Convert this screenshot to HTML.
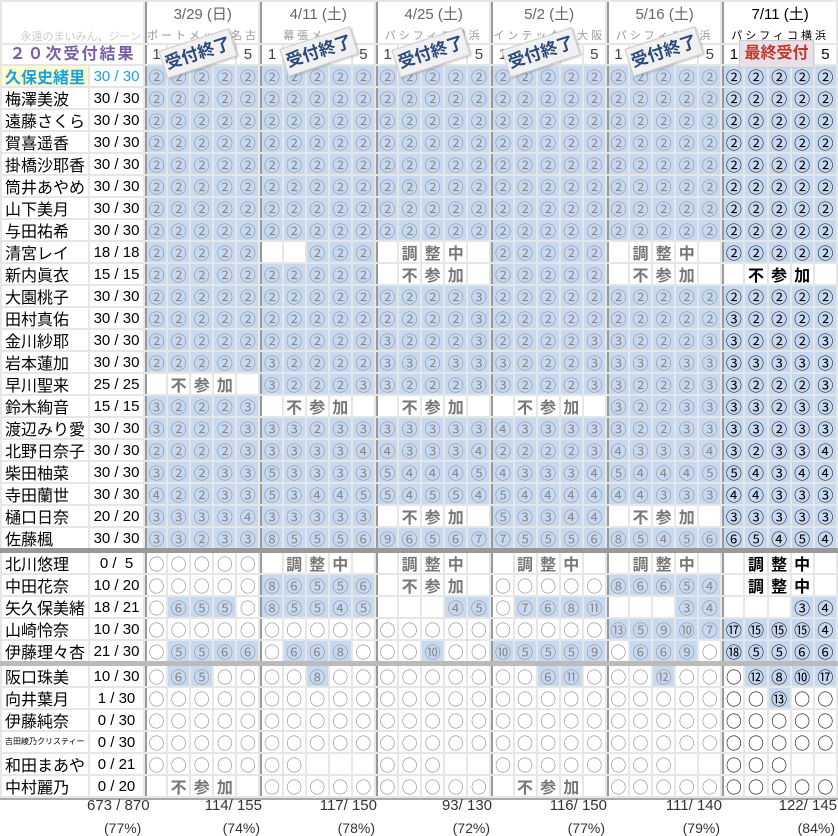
<!DOCTYPE html>
<html><head><meta charset="utf-8">
<style>
html,body{margin:0;padding:0;background:#fff;}
body{width:838px;height:835px;position:relative;overflow:hidden;font-family:"Liberation Sans","Noto Sans CJK JP",sans-serif;}
table{position:absolute;left:0;top:0;width:838px;border-collapse:separate;border-spacing:2px;background:#e6e6e6;table-layout:fixed;border-bottom:2px solid #aaa;}
td{background:#fff;padding:0;height:20px;line-height:20px;text-align:center;font-size:16px;color:#8a8a8a;overflow:hidden;white-space:nowrap;font-family:"Noto Sans CJK JP",sans-serif;vertical-align:middle;}
tr.d td:nth-child(5n+3){border-left:2px solid #999;}
tr.d td:nth-child(n+28){color:#000;}
td.n{text-align:left;padding-left:3px;font-size:16px;color:#000;}
td.c{font-size:15px;color:#000;font-family:"Liberation Sans",sans-serif;height:18px;line-height:18px;padding-top:2px;}
td.b{background:#c6d9f0;}
td.t{font-weight:bold;font-size:16px;color:#777;}
tr.d td.t:nth-child(n+28){color:#000;}
tr.s td{height:1px;line-height:0;font-size:0;background:#999;outline:2px solid #999;}
tr.s2 td{height:1px;line-height:0;font-size:0;background:#bbb;outline:2px solid #bbb;}
tr.h1 td{height:38px;line-height:16px;vertical-align:top;}
tr.h1 td.g{border-left:2px solid #999;}
.dt{font-size:15px;color:#666;margin-top:5px;font-family:"Liberation Sans","Noto Sans CJK JP",sans-serif;}
.vn{font-size:11px;color:#999;letter-spacing:3px;margin-top:4px;}
tr.h2 td{height:19px;line-height:19px;font-size:15px;color:#444;font-family:"Liberation Sans","Noto Sans CJK JP",sans-serif;}
tr.h2 td.g{border-left:2px solid #999;}
.st{position:absolute;width:72px;height:27px;line-height:27px;background:#f1f1f1;border:1px solid #ccc;box-shadow:1px 1px 2px rgba(0,0,0,.25);transform:rotate(-18deg);text-align:center;font-weight:bold;font-size:17px;color:#2c4a7a;font-family:"Liberation Sans","Noto Sans CJK JP",sans-serif;}
.ft{position:absolute;font-size:15px;color:#333;text-align:right;white-space:nowrap;}
.pc{position:absolute;font-size:14px;color:#333;text-align:right;white-space:nowrap;}
</style></head><body>
<table>
<colgroup><col style="width:86px"><col style="width:53px">
<col><col><col><col><col><col><col><col><col><col><col><col><col><col><col><col><col><col><col><col><col><col><col><col><col><col><col><col><col><col></colgroup>
<tr class="h1"><td colspan="2" style="vertical-align:bottom;text-align:right;font-size:11px;color:#ccc;line-height:14px;padding-right:2px;">永遠のまいみん、ジーン</td>
<td colspan="5" class="g"><div class="dt">3/29 (日)</div><div class="vn">ポートメッセ名古屋</div></td>
<td colspan="5" class="g"><div class="dt">4/11 (土)</div><div class="vn">幕張メッセ</div></td>
<td colspan="5" class="g"><div class="dt">4/25 (土)</div><div class="vn">パシフィコ横浜</div></td>
<td colspan="5" class="g"><div class="dt">5/2 (土)</div><div class="vn">インテックス大阪</div></td>
<td colspan="5" class="g"><div class="dt">5/16 (土)</div><div class="vn">パシフィコ横浜</div></td>
<td colspan="5" class="g"><div class="dt" style="color:#000">7/11 (土)</div><div class="vn" style="color:#000">パシフィコ横浜</div></td></tr>
<tr class="h2"><td colspan="2" style="color:#7b5ea7;font-weight:bold;font-size:16px;letter-spacing:2px;">２０次受付結果</td>
<td class="g">1</td><td></td><td></td><td></td><td>5</td>
<td class="g">1</td><td></td><td></td><td></td><td>5</td>
<td class="g">1</td><td></td><td></td><td></td><td>5</td>
<td class="g">1</td><td></td><td></td><td></td><td>5</td>
<td class="g">1</td><td></td><td></td><td></td><td>5</td>
<td class="g" style="color:#000">1</td><td></td><td></td><td></td><td style="color:#000">5</td></tr>

<tr class="d"><td class="n" style="background:#ffffcc;color:#1ca0e0;font-weight:bold;">久保史緒里</td><td class="c" style="color:#1ca0e0">30 / 30</td><td class=b>②</td><td class=b>②</td><td class=b>②</td><td class=b>②</td><td class=b>②</td><td class=b>②</td><td class=b>②</td><td class=b>②</td><td class=b>②</td><td class=b>②</td><td class=b>②</td><td class=b>②</td><td class=b>②</td><td class=b>②</td><td class=b>②</td><td class=b>②</td><td class=b>②</td><td class=b>②</td><td class=b>②</td><td class=b>②</td><td class=b>②</td><td class=b>②</td><td class=b>②</td><td class=b>②</td><td class=b>②</td><td class=b>②</td><td class=b>②</td><td class=b>②</td><td class=b>②</td><td class=b>②</td></tr>
<tr class="d"><td class="n">梅澤美波</td><td class="c">30 / 30</td><td class=b>②</td><td class=b>②</td><td class=b>②</td><td class=b>②</td><td class=b>②</td><td class=b>②</td><td class=b>②</td><td class=b>②</td><td class=b>②</td><td class=b>②</td><td class=b>②</td><td class=b>②</td><td class=b>②</td><td class=b>②</td><td class=b>②</td><td class=b>②</td><td class=b>②</td><td class=b>②</td><td class=b>②</td><td class=b>②</td><td class=b>②</td><td class=b>②</td><td class=b>②</td><td class=b>②</td><td class=b>②</td><td class=b>②</td><td class=b>②</td><td class=b>②</td><td class=b>②</td><td class=b>②</td></tr>
<tr class="d"><td class="n">遠藤さくら</td><td class="c">30 / 30</td><td class=b>②</td><td class=b>②</td><td class=b>②</td><td class=b>②</td><td class=b>②</td><td class=b>②</td><td class=b>②</td><td class=b>②</td><td class=b>②</td><td class=b>②</td><td class=b>②</td><td class=b>②</td><td class=b>②</td><td class=b>②</td><td class=b>②</td><td class=b>②</td><td class=b>②</td><td class=b>②</td><td class=b>②</td><td class=b>②</td><td class=b>②</td><td class=b>②</td><td class=b>②</td><td class=b>②</td><td class=b>②</td><td class=b>②</td><td class=b>②</td><td class=b>②</td><td class=b>②</td><td class=b>②</td></tr>
<tr class="d"><td class="n">賀喜遥香</td><td class="c">30 / 30</td><td class=b>②</td><td class=b>②</td><td class=b>②</td><td class=b>②</td><td class=b>②</td><td class=b>②</td><td class=b>②</td><td class=b>②</td><td class=b>②</td><td class=b>②</td><td class=b>②</td><td class=b>②</td><td class=b>②</td><td class=b>②</td><td class=b>②</td><td class=b>②</td><td class=b>②</td><td class=b>②</td><td class=b>②</td><td class=b>②</td><td class=b>②</td><td class=b>②</td><td class=b>②</td><td class=b>②</td><td class=b>②</td><td class=b>②</td><td class=b>②</td><td class=b>②</td><td class=b>②</td><td class=b>②</td></tr>
<tr class="d"><td class="n">掛橋沙耶香</td><td class="c">30 / 30</td><td class=b>②</td><td class=b>②</td><td class=b>②</td><td class=b>②</td><td class=b>②</td><td class=b>②</td><td class=b>②</td><td class=b>②</td><td class=b>②</td><td class=b>②</td><td class=b>②</td><td class=b>②</td><td class=b>②</td><td class=b>②</td><td class=b>②</td><td class=b>②</td><td class=b>②</td><td class=b>②</td><td class=b>②</td><td class=b>②</td><td class=b>②</td><td class=b>②</td><td class=b>②</td><td class=b>②</td><td class=b>②</td><td class=b>②</td><td class=b>②</td><td class=b>②</td><td class=b>②</td><td class=b>②</td></tr>
<tr class="d"><td class="n">筒井あやめ</td><td class="c">30 / 30</td><td class=b>②</td><td class=b>②</td><td class=b>②</td><td class=b>②</td><td class=b>②</td><td class=b>②</td><td class=b>②</td><td class=b>②</td><td class=b>②</td><td class=b>②</td><td class=b>②</td><td class=b>②</td><td class=b>②</td><td class=b>②</td><td class=b>②</td><td class=b>②</td><td class=b>②</td><td class=b>②</td><td class=b>②</td><td class=b>②</td><td class=b>②</td><td class=b>②</td><td class=b>②</td><td class=b>②</td><td class=b>②</td><td class=b>②</td><td class=b>②</td><td class=b>②</td><td class=b>②</td><td class=b>②</td></tr>
<tr class="d"><td class="n">山下美月</td><td class="c">30 / 30</td><td class=b>②</td><td class=b>②</td><td class=b>②</td><td class=b>②</td><td class=b>②</td><td class=b>②</td><td class=b>②</td><td class=b>②</td><td class=b>②</td><td class=b>②</td><td class=b>②</td><td class=b>②</td><td class=b>②</td><td class=b>②</td><td class=b>②</td><td class=b>②</td><td class=b>②</td><td class=b>②</td><td class=b>②</td><td class=b>②</td><td class=b>②</td><td class=b>②</td><td class=b>②</td><td class=b>②</td><td class=b>②</td><td class=b>②</td><td class=b>②</td><td class=b>②</td><td class=b>②</td><td class=b>②</td></tr>
<tr class="d"><td class="n">与田祐希</td><td class="c">30 / 30</td><td class=b>②</td><td class=b>②</td><td class=b>②</td><td class=b>②</td><td class=b>②</td><td class=b>②</td><td class=b>②</td><td class=b>②</td><td class=b>②</td><td class=b>②</td><td class=b>②</td><td class=b>②</td><td class=b>②</td><td class=b>②</td><td class=b>②</td><td class=b>②</td><td class=b>②</td><td class=b>②</td><td class=b>②</td><td class=b>②</td><td class=b>②</td><td class=b>②</td><td class=b>②</td><td class=b>②</td><td class=b>②</td><td class=b>②</td><td class=b>②</td><td class=b>②</td><td class=b>②</td><td class=b>②</td></tr>
<tr class="d"><td class="n">清宮レイ</td><td class="c">18 / 18</td><td class=b>②</td><td class=b>②</td><td class=b>②</td><td class=b>②</td><td class=b>②</td><td></td><td></td><td class=b>②</td><td class=b>②</td><td class=b>②</td><td></td><td class=t>調</td><td class=t>整</td><td class=t>中</td><td></td><td class=b>②</td><td class=b>②</td><td class=b>②</td><td class=b>②</td><td class=b>②</td><td></td><td class=t>調</td><td class=t>整</td><td class=t>中</td><td></td><td class=b>②</td><td class=b>②</td><td class=b>②</td><td class=b>②</td><td class=b>②</td></tr>
<tr class="d"><td class="n">新内眞衣</td><td class="c">15 / 15</td><td class=b>②</td><td class=b>②</td><td class=b>②</td><td class=b>②</td><td class=b>②</td><td class=b>②</td><td class=b>②</td><td class=b>②</td><td class=b>②</td><td class=b>②</td><td></td><td class=t>不</td><td class=t>参</td><td class=t>加</td><td></td><td class=b>②</td><td class=b>②</td><td class=b>②</td><td class=b>②</td><td class=b>②</td><td></td><td class=t>不</td><td class=t>参</td><td class=t>加</td><td></td><td></td><td class=t>不</td><td class=t>参</td><td class=t>加</td><td></td></tr>
<tr class="d"><td class="n">大園桃子</td><td class="c">30 / 30</td><td class=b>②</td><td class=b>②</td><td class=b>②</td><td class=b>②</td><td class=b>②</td><td class=b>②</td><td class=b>②</td><td class=b>②</td><td class=b>②</td><td class=b>②</td><td class=b>②</td><td class=b>②</td><td class=b>②</td><td class=b>②</td><td class=b>③</td><td class=b>②</td><td class=b>②</td><td class=b>②</td><td class=b>②</td><td class=b>②</td><td class=b>②</td><td class=b>②</td><td class=b>②</td><td class=b>②</td><td class=b>②</td><td class=b>②</td><td class=b>②</td><td class=b>②</td><td class=b>②</td><td class=b>②</td></tr>
<tr class="d"><td class="n">田村真佑</td><td class="c">30 / 30</td><td class=b>②</td><td class=b>②</td><td class=b>②</td><td class=b>②</td><td class=b>②</td><td class=b>②</td><td class=b>②</td><td class=b>②</td><td class=b>②</td><td class=b>②</td><td class=b>②</td><td class=b>②</td><td class=b>②</td><td class=b>②</td><td class=b>③</td><td class=b>②</td><td class=b>②</td><td class=b>②</td><td class=b>②</td><td class=b>②</td><td class=b>②</td><td class=b>②</td><td class=b>②</td><td class=b>②</td><td class=b>②</td><td class=b>③</td><td class=b>②</td><td class=b>②</td><td class=b>②</td><td class=b>②</td></tr>
<tr class="d"><td class="n">金川紗耶</td><td class="c">30 / 30</td><td class=b>②</td><td class=b>②</td><td class=b>②</td><td class=b>②</td><td class=b>②</td><td class=b>②</td><td class=b>②</td><td class=b>②</td><td class=b>②</td><td class=b>②</td><td class=b>③</td><td class=b>②</td><td class=b>②</td><td class=b>②</td><td class=b>③</td><td class=b>②</td><td class=b>②</td><td class=b>②</td><td class=b>②</td><td class=b>③</td><td class=b>③</td><td class=b>②</td><td class=b>②</td><td class=b>②</td><td class=b>③</td><td class=b>③</td><td class=b>②</td><td class=b>②</td><td class=b>②</td><td class=b>③</td></tr>
<tr class="d"><td class="n">岩本蓮加</td><td class="c">30 / 30</td><td class=b>②</td><td class=b>②</td><td class=b>②</td><td class=b>②</td><td class=b>②</td><td class=b>③</td><td class=b>②</td><td class=b>②</td><td class=b>②</td><td class=b>②</td><td class=b>③</td><td class=b>③</td><td class=b>②</td><td class=b>③</td><td class=b>③</td><td class=b>③</td><td class=b>②</td><td class=b>②</td><td class=b>②</td><td class=b>③</td><td class=b>③</td><td class=b>③</td><td class=b>②</td><td class=b>③</td><td class=b>③</td><td class=b>③</td><td class=b>③</td><td class=b>③</td><td class=b>③</td><td class=b>③</td></tr>
<tr class="d"><td class="n">早川聖来</td><td class="c">25 / 25</td><td></td><td class=t>不</td><td class=t>参</td><td class=t>加</td><td></td><td class=b>③</td><td class=b>②</td><td class=b>②</td><td class=b>②</td><td class=b>③</td><td class=b>③</td><td class=b>②</td><td class=b>②</td><td class=b>②</td><td class=b>③</td><td class=b>③</td><td class=b>②</td><td class=b>②</td><td class=b>②</td><td class=b>③</td><td class=b>③</td><td class=b>②</td><td class=b>②</td><td class=b>②</td><td class=b>③</td><td class=b>③</td><td class=b>②</td><td class=b>②</td><td class=b>②</td><td class=b>③</td></tr>
<tr class="d"><td class="n">鈴木絢音</td><td class="c">15 / 15</td><td class=b>③</td><td class=b>②</td><td class=b>②</td><td class=b>②</td><td class=b>③</td><td></td><td class=t>不</td><td class=t>参</td><td class=t>加</td><td></td><td></td><td class=t>不</td><td class=t>参</td><td class=t>加</td><td></td><td></td><td class=t>不</td><td class=t>参</td><td class=t>加</td><td></td><td class=b>③</td><td class=b>②</td><td class=b>②</td><td class=b>③</td><td class=b>③</td><td class=b>③</td><td class=b>③</td><td class=b>②</td><td class=b>③</td><td class=b>③</td></tr>
<tr class="d"><td class="n">渡辺みり愛</td><td class="c">30 / 30</td><td class=b>③</td><td class=b>②</td><td class=b>②</td><td class=b>②</td><td class=b>③</td><td class=b>③</td><td class=b>③</td><td class=b>②</td><td class=b>③</td><td class=b>③</td><td class=b>③</td><td class=b>③</td><td class=b>③</td><td class=b>③</td><td class=b>③</td><td class=b>④</td><td class=b>③</td><td class=b>③</td><td class=b>③</td><td class=b>③</td><td class=b>③</td><td class=b>②</td><td class=b>②</td><td class=b>③</td><td class=b>③</td><td class=b>③</td><td class=b>③</td><td class=b>②</td><td class=b>③</td><td class=b>③</td></tr>
<tr class="d"><td class="n">北野日奈子</td><td class="c">30 / 30</td><td class=b>②</td><td class=b>②</td><td class=b>②</td><td class=b>②</td><td class=b>③</td><td class=b>③</td><td class=b>③</td><td class=b>③</td><td class=b>③</td><td class=b>④</td><td class=b>④</td><td class=b>③</td><td class=b>③</td><td class=b>③</td><td class=b>④</td><td class=b>②</td><td class=b>②</td><td class=b>②</td><td class=b>②</td><td class=b>③</td><td class=b>④</td><td class=b>③</td><td class=b>③</td><td class=b>③</td><td class=b>④</td><td class=b>③</td><td class=b>②</td><td class=b>③</td><td class=b>③</td><td class=b>④</td></tr>
<tr class="d"><td class="n">柴田柚菜</td><td class="c">30 / 30</td><td class=b>③</td><td class=b>②</td><td class=b>②</td><td class=b>③</td><td class=b>③</td><td class=b>⑤</td><td class=b>③</td><td class=b>③</td><td class=b>③</td><td class=b>③</td><td class=b>⑤</td><td class=b>④</td><td class=b>④</td><td class=b>④</td><td class=b>⑤</td><td class=b>④</td><td class=b>③</td><td class=b>③</td><td class=b>③</td><td class=b>④</td><td class=b>⑤</td><td class=b>④</td><td class=b>④</td><td class=b>④</td><td class=b>⑤</td><td class=b>⑤</td><td class=b>④</td><td class=b>③</td><td class=b>④</td><td class=b>④</td></tr>
<tr class="d"><td class="n">寺田蘭世</td><td class="c">30 / 30</td><td class=b>④</td><td class=b>②</td><td class=b>②</td><td class=b>③</td><td class=b>③</td><td class=b>⑤</td><td class=b>③</td><td class=b>④</td><td class=b>④</td><td class=b>⑤</td><td class=b>⑤</td><td class=b>④</td><td class=b>⑤</td><td class=b>⑤</td><td class=b>④</td><td class=b>⑤</td><td class=b>④</td><td class=b>④</td><td class=b>④</td><td class=b>④</td><td class=b>④</td><td class=b>④</td><td class=b>③</td><td class=b>③</td><td class=b>③</td><td class=b>④</td><td class=b>④</td><td class=b>③</td><td class=b>③</td><td class=b>③</td></tr>
<tr class="d"><td class="n">樋口日奈</td><td class="c">20 / 20</td><td class=b>③</td><td class=b>③</td><td class=b>③</td><td class=b>③</td><td class=b>④</td><td class=b>③</td><td class=b>③</td><td class=b>③</td><td class=b>③</td><td class=b>③</td><td></td><td class=t>不</td><td class=t>参</td><td class=t>加</td><td></td><td class=b>⑤</td><td class=b>③</td><td class=b>③</td><td class=b>④</td><td class=b>④</td><td></td><td class=t>不</td><td class=t>参</td><td class=t>加</td><td></td><td class=b>③</td><td class=b>③</td><td class=b>③</td><td class=b>③</td><td class=b>③</td></tr>
<tr class="d"><td class="n">佐藤楓</td><td class="c">30 / 30</td><td class=b>③</td><td class=b>③</td><td class=b>②</td><td class=b>③</td><td class=b>③</td><td class=b>⑧</td><td class=b>⑤</td><td class=b>⑤</td><td class=b>⑤</td><td class=b>⑥</td><td class=b>⑨</td><td class=b>⑥</td><td class=b>⑤</td><td class=b>⑥</td><td class=b>⑦</td><td class=b>⑦</td><td class=b>⑤</td><td class=b>⑤</td><td class=b>⑤</td><td class=b>⑥</td><td class=b>⑧</td><td class=b>⑤</td><td class=b>④</td><td class=b>⑤</td><td class=b>⑥</td><td class=b>⑥</td><td class=b>⑤</td><td class=b>④</td><td class=b>⑤</td><td class=b>④</td></tr>
<tr class="s"><td colspan="32"></td></tr>
<tr class="d"><td class="n">北川悠理</td><td class="c">0 / &nbsp;5</td><td>○</td><td>○</td><td>○</td><td>○</td><td>○</td><td></td><td class=t>調</td><td class=t>整</td><td class=t>中</td><td></td><td></td><td class=t>調</td><td class=t>整</td><td class=t>中</td><td></td><td></td><td class=t>調</td><td class=t>整</td><td class=t>中</td><td></td><td></td><td class=t>調</td><td class=t>整</td><td class=t>中</td><td></td><td></td><td class=t>調</td><td class=t>整</td><td class=t>中</td><td></td></tr>
<tr class="d"><td class="n">中田花奈</td><td class="c">10 / 20</td><td>○</td><td>○</td><td>○</td><td>○</td><td>○</td><td class=b>⑧</td><td class=b>⑥</td><td class=b>⑤</td><td class=b>⑤</td><td class=b>⑥</td><td></td><td class=t>不</td><td class=t>参</td><td class=t>加</td><td></td><td>○</td><td>○</td><td>○</td><td>○</td><td>○</td><td class=b>⑧</td><td class=b>⑥</td><td class=b>⑥</td><td class=b>⑤</td><td class=b>④</td><td></td><td class=t>調</td><td class=t>整</td><td class=t>中</td><td></td></tr>
<tr class="d"><td class="n">矢久保美緒</td><td class="c">18 / 21</td><td>○</td><td class=b>⑥</td><td class=b>⑤</td><td class=b>⑤</td><td>○</td><td class=b>⑧</td><td class=b>⑤</td><td class=b>⑤</td><td class=b>④</td><td class=b>⑤</td><td></td><td></td><td></td><td class=b>④</td><td class=b>⑤</td><td>○</td><td class=b>⑦</td><td class=b>⑥</td><td class=b>⑧</td><td class=b>⑪</td><td></td><td></td><td></td><td class=b>③</td><td class=b>④</td><td></td><td></td><td></td><td class=b>③</td><td class=b>④</td></tr>
<tr class="d"><td class="n">山崎怜奈</td><td class="c">10 / 30</td><td>○</td><td>○</td><td>○</td><td>○</td><td>○</td><td>○</td><td>○</td><td>○</td><td>○</td><td>○</td><td>○</td><td>○</td><td>○</td><td>○</td><td>○</td><td>○</td><td>○</td><td>○</td><td>○</td><td>○</td><td class=b>⑬</td><td class=b>⑤</td><td class=b>⑨</td><td class=b>⑩</td><td class=b>⑦</td><td class=b>⑰</td><td class=b>⑮</td><td class=b>⑮</td><td class=b>⑮</td><td class=b>④</td></tr>
<tr class="d"><td class="n">伊藤理々杏</td><td class="c">21 / 30</td><td>○</td><td class=b>⑤</td><td class=b>⑤</td><td class=b>⑥</td><td class=b>⑥</td><td>○</td><td class=b>⑥</td><td class=b>⑥</td><td class=b>⑧</td><td>○</td><td>○</td><td>○</td><td class=b>⑩</td><td>○</td><td>○</td><td class=b>⑩</td><td class=b>⑤</td><td class=b>⑤</td><td class=b>⑤</td><td class=b>⑨</td><td>○</td><td class=b>⑥</td><td class=b>⑥</td><td class=b>⑨</td><td>○</td><td class=b>⑱</td><td class=b>⑤</td><td class=b>⑤</td><td class=b>⑥</td><td class=b>⑥</td></tr>
<tr class="s2"><td colspan="32"></td></tr>
<tr class="d"><td class="n">阪口珠美</td><td class="c">10 / 30</td><td>○</td><td class=b>⑥</td><td class=b>⑤</td><td>○</td><td>○</td><td>○</td><td>○</td><td class=b>⑧</td><td>○</td><td>○</td><td>○</td><td>○</td><td>○</td><td>○</td><td>○</td><td>○</td><td>○</td><td class=b>⑥</td><td class=b>⑪</td><td>○</td><td>○</td><td>○</td><td class=b>⑫</td><td>○</td><td>○</td><td>○</td><td class=b>⑫</td><td class=b>⑧</td><td class=b>⑩</td><td class=b>⑰</td></tr>
<tr class="d"><td class="n">向井葉月</td><td class="c">1 / 30</td><td>○</td><td>○</td><td>○</td><td>○</td><td>○</td><td>○</td><td>○</td><td>○</td><td>○</td><td>○</td><td>○</td><td>○</td><td>○</td><td>○</td><td>○</td><td>○</td><td>○</td><td>○</td><td>○</td><td>○</td><td>○</td><td>○</td><td>○</td><td>○</td><td>○</td><td>○</td><td>○</td><td class=b>⑬</td><td>○</td><td>○</td></tr>
<tr class="d"><td class="n">伊藤純奈</td><td class="c">0 / 30</td><td>○</td><td>○</td><td>○</td><td>○</td><td>○</td><td>○</td><td>○</td><td>○</td><td>○</td><td>○</td><td>○</td><td>○</td><td>○</td><td>○</td><td>○</td><td>○</td><td>○</td><td>○</td><td>○</td><td>○</td><td>○</td><td>○</td><td>○</td><td>○</td><td>○</td><td>○</td><td>○</td><td>○</td><td>○</td><td>○</td></tr>
<tr class="d"><td class="n" style="font-size:8px;">吉田綾乃クリスティー</td><td class="c">0 / 30</td><td>○</td><td>○</td><td>○</td><td>○</td><td>○</td><td>○</td><td>○</td><td>○</td><td>○</td><td>○</td><td>○</td><td>○</td><td>○</td><td>○</td><td>○</td><td>○</td><td>○</td><td>○</td><td>○</td><td>○</td><td>○</td><td>○</td><td>○</td><td>○</td><td>○</td><td>○</td><td>○</td><td>○</td><td>○</td><td>○</td></tr>
<tr class="d"><td class="n">和田まあや</td><td class="c">0 / 21</td><td>○</td><td>○</td><td>○</td><td>○</td><td>○</td><td>○</td><td>○</td><td></td><td></td><td></td><td>○</td><td>○</td><td>○</td><td></td><td></td><td>○</td><td>○</td><td>○</td><td>○</td><td>○</td><td>○</td><td>○</td><td>○</td><td></td><td></td><td>○</td><td>○</td><td>○</td><td></td><td></td></tr>
<tr class="d"><td class="n">中村麗乃</td><td class="c">0 / 20</td><td></td><td class=t>不</td><td class=t>参</td><td class=t>加</td><td></td><td>○</td><td>○</td><td>○</td><td>○</td><td>○</td><td>○</td><td>○</td><td>○</td><td>○</td><td>○</td><td></td><td class=t>不</td><td class=t>参</td><td class=t>加</td><td></td><td>○</td><td>○</td><td>○</td><td>○</td><td>○</td><td>○</td><td>○</td><td>○</td><td>○</td><td>○</td></tr>
</table>

<div class="st" style="left:161px;top:39px;">受付終了</div>
<div class="st" style="left:282px;top:37px;">受付終了</div>
<div class="st" style="left:394px;top:38px;">受付終了</div>
<div class="st" style="left:504px;top:38px;">受付終了</div>
<div class="st" style="left:627px;top:37px;">受付終了</div>
<div style="position:absolute;left:739px;top:40px;width:73px;height:26px;line-height:26px;background:#e9dfe8;border:1px solid #ccc;text-align:center;font-weight:bold;font-size:16px;color:#c0392b;">最終受付</div>

<div class="ft" style="left:87px;top:797px;">673 / 870</div>
<div class="pc" style="left:104px;top:820px;">(77%)</div>
<div class="ft" style="right:576px;top:797px;">114/ 155</div>
<div class="pc" style="right:578px;top:820px;">(74%)</div>
<div class="ft" style="right:461px;top:797px;">117/ 150</div>
<div class="pc" style="right:463px;top:820px;">(78%)</div>
<div class="ft" style="right:346px;top:797px;">93/ 130</div>
<div class="pc" style="right:348px;top:820px;">(72%)</div>
<div class="ft" style="right:231px;top:797px;">116/ 150</div>
<div class="pc" style="right:233px;top:820px;">(77%)</div>
<div class="ft" style="right:116px;top:797px;">111/ 140</div>
<div class="pc" style="right:118px;top:820px;">(79%)</div>
<div class="ft" style="right:1px;top:797px;">122/ 145</div>
<div class="pc" style="right:3px;top:820px;">(84%)</div>
</body></html>
